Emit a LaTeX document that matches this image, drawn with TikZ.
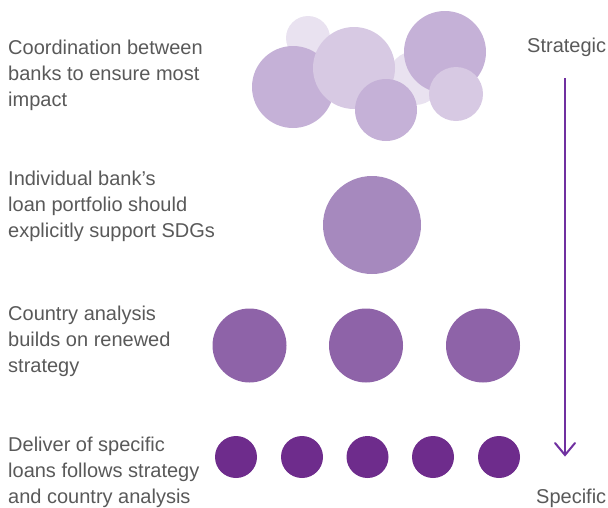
\documentclass[tikz,border=0pt]{standalone}
\usepackage{fontspec}
\usetikzlibrary{calc}
\setmainfont{Liberation Sans}
\definecolor{txtgray}{HTML}{595959}
\definecolor{bubpale}{HTML}{E9E2F0}
\definecolor{bublight}{HTML}{D7C9E3}
\definecolor{bubmid}{HTML}{C5B1D7}
\definecolor{lvltwo}{HTML}{A689BE}
\definecolor{lvlthree}{HTML}{8E63A8}
\definecolor{lvlfour}{HTML}{6E2C8C}
\definecolor{arrowpurple}{HTML}{7030A0}
\begin{document}
\begin{tikzpicture}[x=1pt,y=-1pt,
  label text/.style={anchor=base west, align=left, inner sep=0pt, text=txtgray,
    font=\fontsize{20}{26.3}\selectfont},
  side text/.style={anchor=base west, inner sep=0pt, text=txtgray,
    font=\fontsize{20}{24}\selectfont},
  bubble/.style={circle, inner sep=0pt, minimum size=#1, draw=none},
]
\useasboundingbox (0,0) rectangle (608,507);

% cluster of bubbles: coordination between banks
\node[bubble=44pt, fill=bubpale] (c1) at (308,38) {};
\node[bubble=54pt, fill=bubpale] (c2) at (415,78) {};
\node[bubble=82pt, fill=bubmid] (c3) at (293,87) {};
\node[bubble=82pt, fill=bublight] (c4) at (354,68) {};
\node[bubble=82pt, fill=bubmid] (c5) at (445,52) {};
\node[bubble=62pt, fill=bubmid] (c6) at (386,110) {};
\node[bubble=54pt, fill=bublight] (c7) at (456,94) {};

% single bank portfolio
\node[bubble=98pt, fill=lvltwo] (b1) at (372,225) {};

% country analyses
\foreach \i/\x in {1/249.5,2/366,3/483}
  \node[bubble=74pt, fill=lvlthree] (a\i) at (\x,345.5) {};

% specific loans
\foreach \i/\x in {1/236,2/302,3/367.5,4/433,5/499}
  \node[bubble=42pt, fill=lvlfour] (l\i) at (\x,457) {};

% row descriptions (anchored on the baseline of the last line)
\node[label text] (t1) at (8,106.6) {Coordination between\\banks to ensure most\\impact};
\node[label text] (t2) at (8,237.6) {Individual bank’s\\loan portfolio should\\explicitly support SDGs};
\node[label text] (t3) at (8,372.6) {Country analysis\\builds on renewed\\strategy};
\node[label text] (t4) at (8,503.6) {Deliver of specific\\loans follows strategy\\and country analysis};

% scale from strategic to specific
\node[side text] (strat) at (527,52) {Strategic};
\node[side text] (spec) at (536,503) {Specific};
\coordinate (atop) at (565,78);
\coordinate (abot) at (565,455);
\draw[arrowpurple, line width=2pt] (atop) -- (abot);
\draw[arrowpurple, line width=2pt, line cap=round, line join=miter]
  ($(abot)+(-10,-12)$) -- (abot) -- ($(abot)+(10,-12)$);
\end{tikzpicture}
\end{document}
